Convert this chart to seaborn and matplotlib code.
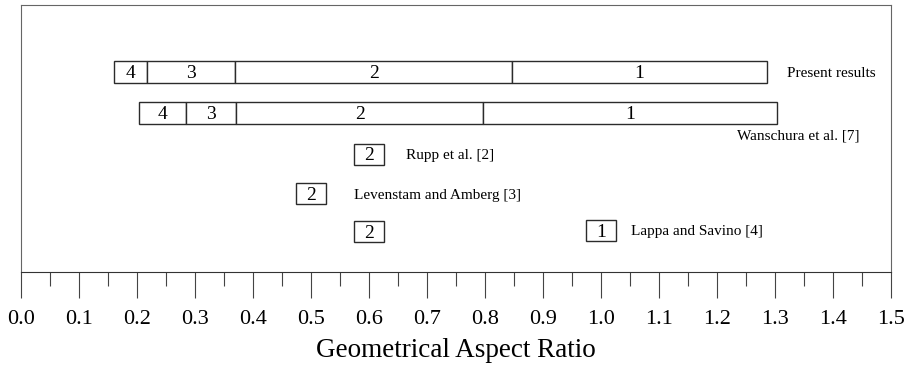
import matplotlib
matplotlib.use("Agg")
import matplotlib.pyplot as plt
import seaborn as sns
from matplotlib.ticker import MultipleLocator

# Aspect-ratio ranges of the oscillatory modes (segment edges, left to right)
present_edges = [0.160, 0.217, 0.369, 0.847, 1.286]
present_modes = ["4", "3", "2", "1"]
wanschura_edges = [0.203, 0.284, 0.371, 0.797, 1.303]
wanschura_modes = ["4", "3", "2", "1"]

# Single-point results from the literature
single_values = [0.60, 0.50, 0.60, 1.00]
single_modes = ["2", "2", "2", "1"]
single_refs = ["Rupp et al. [2]", "Levenstam and Amberg [3]", "", "Lappa and Savino [4]"]

tick_values = [round(0.1 * i, 1) for i in range(16)]
tick_labels = [f"{v:.1f}" for v in tick_values]

sns.set_theme(style="white")
plt.rcParams["font.family"] = ["Liberation Serif", "DejaVu Serif"]
plt.rcParams["text.color"] = "black"
plt.rcParams["xtick.color"] = "black"
plt.rcParams["axes.labelcolor"] = "black"

fig = plt.figure(figsize=(9.08, 3.72), dpi=100)
ax = fig.add_axes([21 / 908, 100 / 372, 870 / 908, 267 / 372])
ax.set_xlim(0, 1.5)
ax.set_ylim(272, 5)  # rows are laid out top-down

edge_col = "#2b2b2b"
bar_h = 22
num_fs = 14
ref_fs = 11


def draw_ranges(edges, modes, y):
    for i, m in enumerate(modes):
        left, right = edges[i], edges[i + 1]
        ax.barh(y, right - left, left=left, height=bar_h, color="white",
                edgecolor=edge_col, linewidth=1.0)
        ax.text((left + right) / 2, y, m, ha="center", va="center_baseline",
                fontsize=num_fs)


row_present, row_wans = 72, 112.5
draw_ranges(present_edges, present_modes, row_present)
draw_ranges(wanschura_edges, wanschura_modes, row_wans)
ax.text(1.321, row_present, "Present results", ha="left",
        va="center_baseline", fontsize=ref_fs)
ax.text(1.445, 134, "Wanschura et al. [7]", ha="right",
        va="center_baseline", fontsize=ref_fs)

single_rows = [154, 193.5, 231.5, 230.5]
ref_x = [0.664, 0.574, None, 1.052]
box_w = 0.052
for v, m, ref, y, rx in zip(single_values, single_modes, single_refs,
                            single_rows, ref_x):
    ax.barh(y, box_w, left=v - box_w / 2, height=bar_h - 1, color="white",
            edgecolor=edge_col, linewidth=1.0)
    ax.text(v, y, m, ha="center", va="center_baseline", fontsize=num_fs)
    if ref:
        ax.text(rx, y, ref, ha="left", va="center_baseline", fontsize=ref_fs)

ax.set_yticks([])
ax.set_xticks(tick_values)
ax.set_xticklabels(tick_labels, fontsize=16)
ax.xaxis.set_minor_locator(MultipleLocator(0.05))
ax.tick_params(axis="x", which="major", direction="out", length=19,
               width=0.8, color="#444444", pad=8, bottom=True)
ax.tick_params(axis="x", which="minor", direction="out", length=10,
               width=0.8, color="#444444", bottom=True)
ax.set_xlabel("Geometrical Aspect Ratio", fontsize=19.5, labelpad=7)

for side, sp in ax.spines.items():
    sp.set_visible(True)
    sp.set_color("#666666")
    sp.set_linewidth(0.8)
ax.spines["bottom"].set_color("#333333")

fig.savefig("out.png", dpi=100)
